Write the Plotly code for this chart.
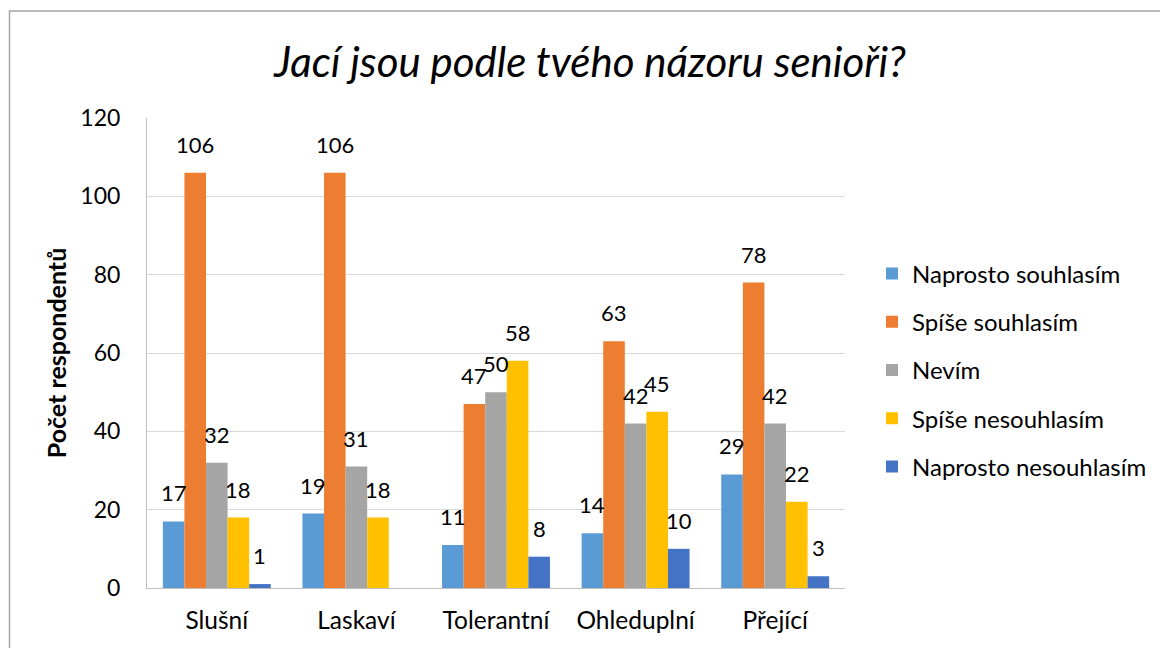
import plotly.graph_objects as go

categories = ["Slušní", "Laskaví", "Tolerantní", "Ohleduplní", "Přející"]
naprosto_souhlasim = [17, 19, 11, 14, 29]
spise_souhlasim = [106, 106, 47, 63, 78]
nevim = [32, 31, 50, 42, 42]
spise_nesouhlasim = [18, 18, 58, 45, 22]
naprosto_nesouhlasim = [1, None, 8, 10, 3]

series = [
    ("Naprosto souhlasím", naprosto_souhlasim, "#5B9BD5"),
    ("Spíše souhlasím", spise_souhlasim, "#ED7D31"),
    ("Nevím", nevim, "#A5A5A5"),
    ("Spíše nesouhlasím", spise_nesouhlasim, "#FFC000"),
    ("Naprosto nesouhlasím", naprosto_nesouhlasim, "#4472C4"),
]

FONT = "Lato, Open Sans, sans-serif"
NUM = 23
LBL = 22
TXT = 24

# page body has an 8px margin; compensate so the picture lines up
OFF = 8
W, H = 1168, 648
L, R, T, B = 147 - OFF, 845 - OFF, 118 - OFF, 588 - OFF
pw, ph = R - L, B - T
BARGAP = 0.227
bar_px = pw / len(categories) * (1 - BARGAP) / len(series)


def px(x):
    return (x - OFF - L) / pw


def py(y):
    return (B - (y - OFF)) / ph


fig = go.Figure()
annotations = []
for i, (name, vals, col) in enumerate(series):
    fig.add_trace(go.Bar(
        x=categories, y=vals, name=name, marker_color=col,
        marker_line_width=0, legendgroup=f"g{i}",
    ))
    for cat, v in zip(categories, vals):
        if v is None:
            continue
        annotations.append(dict(
            x=cat, y=v, xref="x", yref="y", text=str(v), showarrow=False,
            xanchor="center", yanchor="bottom",
            xshift=(i - (len(series) - 1) / 2) * bar_px, yshift=13,
            font=dict(family=FONT, size=LBL, color="#000000"),
        ))

fig.update_layout(
    width=W, height=H,
    margin=dict(l=L, r=W - R, t=T, b=H - B, autoexpand=False),
    paper_bgcolor="white", plot_bgcolor="white",
    barmode="group", bargap=BARGAP, bargroupgap=0,
    font=dict(family=FONT, size=TXT, color="#000000"),
    title=dict(text="<i>Jací jsou podle tvého názoru senioři?</i>",
               x=(590 - OFF) / W, xanchor="center", y=1 - (62 - OFF) / H, yanchor="middle",
               font=dict(family=FONT, size=42, color="#000000")),
    xaxis=dict(showgrid=False, showline=True, linecolor="#BFBFBF", linewidth=1,
               ticks="", tickfont=dict(family=FONT, size=24.5), ticklabelstandoff=11),
    yaxis=dict(range=[0, 120], dtick=20, showgrid=True, gridcolor="#D9D9D9",
               showline=True, linecolor="#BFBFBF", ticks="", zeroline=False,
               tickfont=dict(family=FONT, size=NUM), ticklabelstandoff=21,
               title=dict(text="<b>Počet respondentů</b>", standoff=6,
                          font=dict(family=FONT, size=25))),
    legend=dict(x=px(872), xanchor="left", y=py(370), yanchor="middle",
                font=dict(family=FONT, size=TXT), tracegroupgap=14,
                itemwidth=30, bgcolor="rgba(0,0,0,0)"),
    annotations=annotations,
    shapes=[dict(type="rect", xref="paper", yref="paper",
                 x0=px(9.5), x1=px(1190), y0=py(700), y1=py(11),
                 line=dict(color="#A6A6A6", width=1.5), layer="below")],
)

fig.write_html("out.html")
